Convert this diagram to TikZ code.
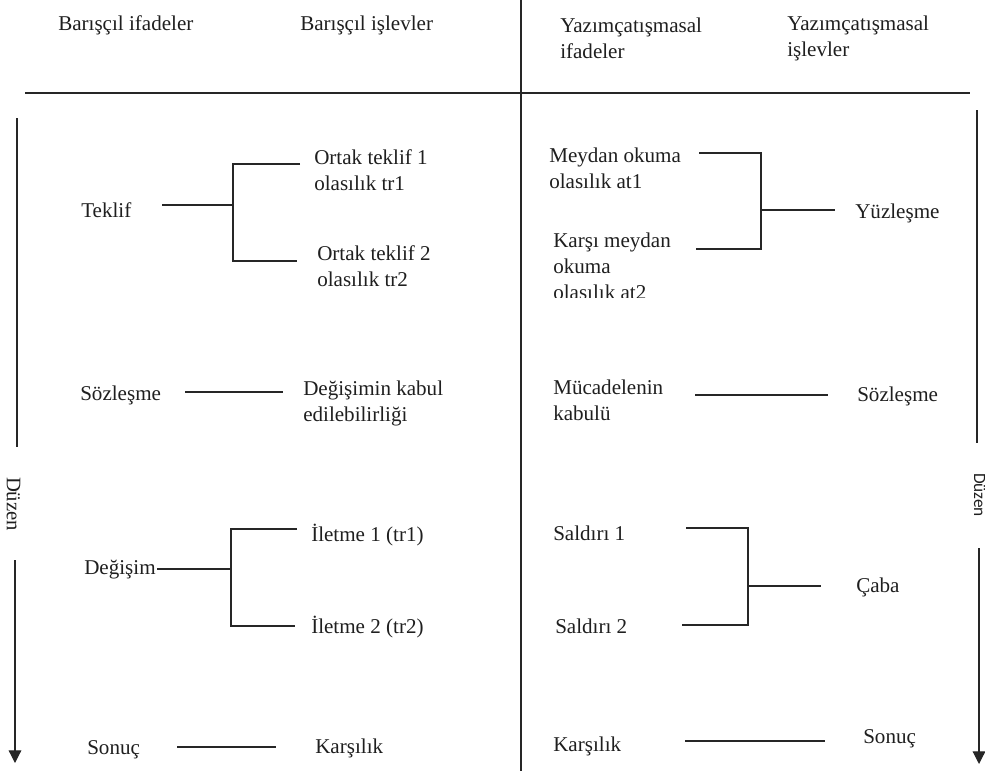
\documentclass[tikz,border=0pt]{standalone}
\usepackage{fontspec}
\setmainfont{Liberation Serif}
\newfontfamily\duzensans{Carlito}
\usetikzlibrary{arrows.meta}
\begin{document}
\begin{tikzpicture}[x=0.75pt,y=-0.75pt,
  font=\fontsize{15.8}{19.5}\selectfont,
  lbl/.style={inner sep=0pt, anchor=west, align=left, text=black!88},
  conn/.style={line width=0.8pt, draw=black!85},
  axis/.style={line width=0.9pt, draw=black!85},
  arr/.style={axis, -{Triangle[length=9.5pt,width=9.5pt]}},
  vtext/.style={inner sep=0pt, rotate=-90, anchor=base, text=black!88}]
\useasboundingbox (0,0) rectangle (985,771);

% ---- frame ----
\coordinate (vtop) at (521,0);
\coordinate (vbot) at (521,771);
\coordinate (hl) at (25,93);
\coordinate (hr) at (970,93);
\draw[axis] (vtop) -- (vbot);
\draw[axis] (hl) -- (hr);

% ---- headers ----
\node[lbl] (h1) at (58,25) {Barışçıl ifadeler};
\node[lbl] (h2) at (300,25) {Barışçıl işlevler};
\node[lbl] (h3) at (560,38) {Yazımçatışmasal\\ifadeler};
\node[lbl] (h4) at (787,38) {Yazımçatışmasal\\işlevler};

% ---- Düzen arrows ----
\node[vtext, font=\fontsize{15.5}{18}\selectfont] (dl) at (7,504) {Düzen};
\coordinate (dl1) at (17,118);
\coordinate (dl2) at (17,447);
\coordinate (dl3) at (15,560);
\coordinate (dl4) at (15,763);
\draw[axis] (dl1) -- (dl2);
\draw[arr] (dl3) -- (dl4);

\node[vtext, font=\duzensans\fontsize{13}{16}\selectfont] (dr) at (974,495) {Düzen};
\coordinate (dr1) at (977,110);
\coordinate (dr2) at (977,443);
\coordinate (dr3) at (979,548);
\coordinate (dr4) at (979,764);
\draw[axis] (dr1) -- (dr2);
\draw[arr] (dr3) -- (dr4);

% ---- left column ----
\node[lbl] (teklif) at (81,210) {Teklif};
\node[lbl] (ot1) at (314,170) {Ortak teklif 1\\olasılık tr1};
\node[lbl] (ot2) at (317,266) {Ortak teklif 2\\olasılık tr2};
\coordinate (t0) at (162,205);
\coordinate (tj) at (233,205);
\coordinate (tt) at (233,164);
\coordinate (tb) at (233,261);
\coordinate (te1) at (300,164);
\coordinate (te2) at (297,261);
\draw[conn] (t0) -- (tj);
\draw[conn] (te1) -- (tt) -- (tb) -- (te2);

\node[lbl] (soz) at (80,395) {Sözleşme};
\node[lbl] (deg) at (303,403) {Değişimin kabul\\edilebilirliği};
\coordinate (s0) at (185,392);
\coordinate (s1) at (283,392);
\draw[conn] (s0) -- (s1);

\node[lbl] (degisim) at (84,570) {Değişim};
\node[lbl] (il1) at (311,535) {İletme 1 (tr1)};
\node[lbl] (il2) at (311,627) {İletme 2 (tr2)};
\coordinate (d0) at (157,569);
\coordinate (dj) at (231,569);
\coordinate (dt) at (231,529);
\coordinate (db) at (231,626);
\coordinate (de1) at (297,529);
\coordinate (de2) at (295,626);
\draw[conn] (d0) -- (dj);
\draw[conn] (de1) -- (dt) -- (db) -- (de2);

\node[lbl] (sonucL) at (87,750) {Sonuç};
\node[lbl] (karsL) at (315,748) {Karşılık};
\coordinate (k0) at (177,747);
\coordinate (k1) at (276,747);
\draw[conn] (k0) -- (k1);

% ---- right column ----
\node[lbl] (mo) at (549,168) {Meydan okuma\\olasılık at1};
\begin{scope}
  \clip (540,220) rectangle (700,297);
  \node[lbl] (kmo) at (553,266) {Karşı meydan\\okuma\\olasılık at2};
\end{scope}
\node[lbl] (yuz) at (855,213) {Yüzleşme};
\coordinate (m1) at (699,153);
\coordinate (mt) at (761,153);
\coordinate (mb) at (761,249);
\coordinate (m2) at (696,249);
\coordinate (mj) at (761,210);
\coordinate (me) at (835,210);
\draw[conn] (m1) -- (mt) -- (mb) -- (m2);
\draw[conn] (mj) -- (me);

\node[lbl] (muc) at (553,400) {Mücadelenin\\kabulü};
\node[lbl] (sozR) at (857,396) {Sözleşme};
\coordinate (u0) at (695,395);
\coordinate (u1) at (828,395);
\draw[conn] (u0) -- (u1);

\node[lbl] (sa1) at (553,533) {Saldırı 1};
\node[lbl] (sa2) at (555,626) {Saldırı 2};
\node[lbl] (caba) at (856,587) {Çaba};
\coordinate (a1) at (686,528);
\coordinate (at) at (748,528);
\coordinate (ab) at (748,625);
\coordinate (a2) at (682,625);
\coordinate (aj) at (748,586);
\coordinate (ae) at (821,586);
\draw[conn] (a1) -- (at) -- (ab) -- (a2);
\draw[conn] (aj) -- (ae);

\node[lbl] (karsR) at (553,746) {Karşılık};
\node[lbl] (sonucR) at (863,739) {Sonuç};
\coordinate (r0) at (685,741);
\coordinate (r1) at (825,741);
\draw[conn] (r0) -- (r1);
\end{tikzpicture}
\end{document}
